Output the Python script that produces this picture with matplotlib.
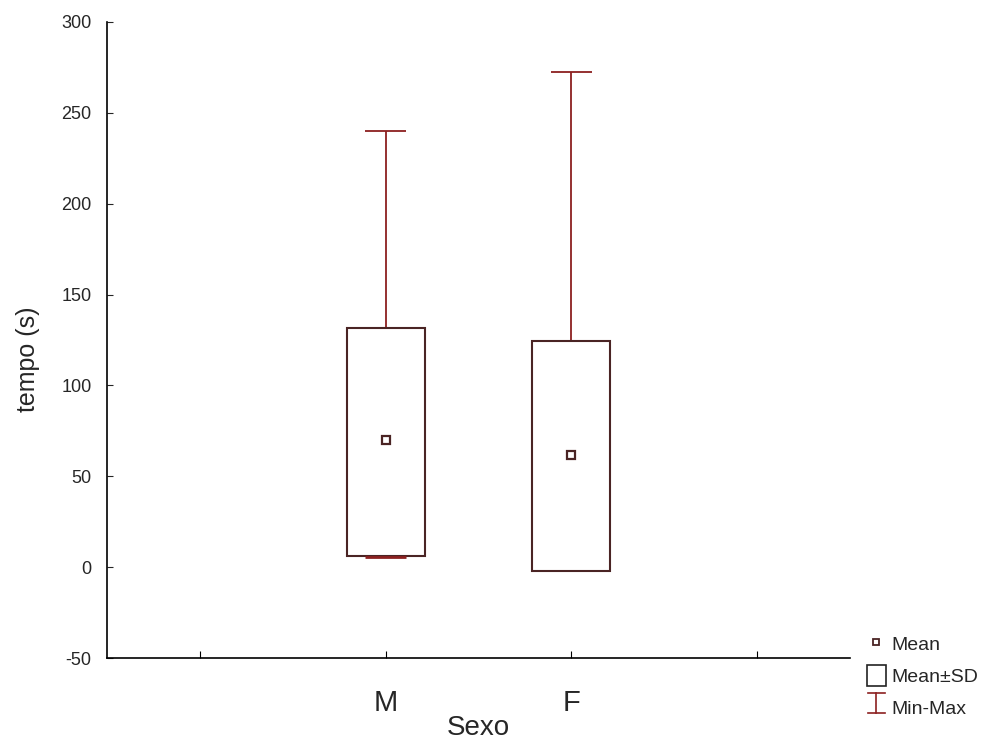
import numpy as np
import matplotlib.pyplot as plt
from matplotlib.lines import Line2D
from matplotlib.patches import Rectangle
from matplotlib.legend_handler import HandlerBase

plt.rcParams['font.family'] = ['Liberation Sans', 'DejaVu Sans']
plt.rcParams['axes.unicode_minus'] = False

groups = ["M", "F"]
pos = [1, 2]
means = [70, 61.6]
sd_low = [6, -2.2]
sd_high = [131.5, 124.4]
mins = [5.5, None]
maxs = [240, 272.4]

box_col = "#4a2424"
wsk_col = "#8c2020"
txt_col = "#262626"


class IBeamHandler(HandlerBase):
    def create_artists(self, legend, orig, xd, yd, w, h, fs, trans):
        cx = xd + w / 2
        lo, hi = yd - 2, yd + h - 3
        arts = [Line2D([cx, cx], [lo, hi], color=wsk_col, lw=1.2),
                Line2D([cx - 6, cx + 6], [lo, lo], color=wsk_col, lw=1.2),
                Line2D([cx - 6, cx + 6], [hi, hi], color=wsk_col, lw=1.2)]
        for a in arts:
            a.set_transform(trans)
        return arts


fig = plt.figure(figsize=(9.98, 7.42), dpi=100)
ax = fig.add_axes([0.1072, 0.1132, 0.7445, 0.8572])

w = 0.42
cap = 0.22
for i in range(len(groups)):
    x = pos[i]
    # whiskers (min-max)
    ax.vlines(x, sd_high[i], maxs[i], color=wsk_col, lw=1.3, zorder=1)
    ax.hlines(maxs[i], x - cap / 2, x + cap / 2, color=wsk_col, lw=1.3, zorder=1)
    if mins[i] is not None:
        ax.vlines(x, mins[i], sd_low[i], color=wsk_col, lw=1.3, zorder=1)
        ax.hlines(mins[i], x - cap / 2, x + cap / 2, color=wsk_col, lw=2, zorder=3)
    # mean +- sd box
    ax.bar(x, sd_high[i] - sd_low[i], bottom=sd_low[i], width=w,
           facecolor="white", edgecolor=box_col, lw=1.5, zorder=2)
ax.plot(pos, means, ls="none", marker="s", ms=6, mfc="white",
        mec=box_col, mew=1.6, zorder=4)

ax.set_xlim(-0.5, 3.5)
ax.set_ylim(-50, 300)
ax.set_xticks([0, 1, 2, 3])
ax.set_xticklabels(["", "M", "F", ""], fontsize=21, color=txt_col)
ax.set_yticks(np.arange(-50, 301, 50))
ax.tick_params(axis="y", direction="in", length=4, labelsize=13, pad=11, colors=txt_col)
ax.tick_params(axis="x", direction="in", length=5, pad=22)
ax.spines["top"].set_visible(False)
ax.spines["right"].set_visible(False)
ax.spines["left"].set_linewidth(1.2)
ax.spines["bottom"].set_linewidth(1.2)
ax.set_ylabel("tempo (s)", fontsize=18, color=txt_col)
ax.set_xlabel("Sexo", fontsize=20, color=txt_col)
ax.yaxis.set_label_coords(-0.09, 0.47)
ax.xaxis.set_label_coords(0.5, -0.09)

handles = [Line2D([], [], ls="none", marker="s", ms=5, mfc="white", mec=box_col, mew=1.3),
           Rectangle((0, 0), 1, 1, facecolor="white", edgecolor="#222222", lw=1.2),
           object()]
labels = ["Mean", "Mean\u00b1SD", "Min-Max"]
fig.legend(handles, labels, loc="upper left", bbox_to_anchor=(0.869, 0.146),
           frameon=False, fontsize=14, handlelength=0.95, handleheight=1.25,
           handletextpad=0.3, labelspacing=0.55, borderaxespad=0, borderpad=0,
           labelcolor=txt_col, handler_map={object: IBeamHandler()})

fig.savefig("out.png", dpi=100)
